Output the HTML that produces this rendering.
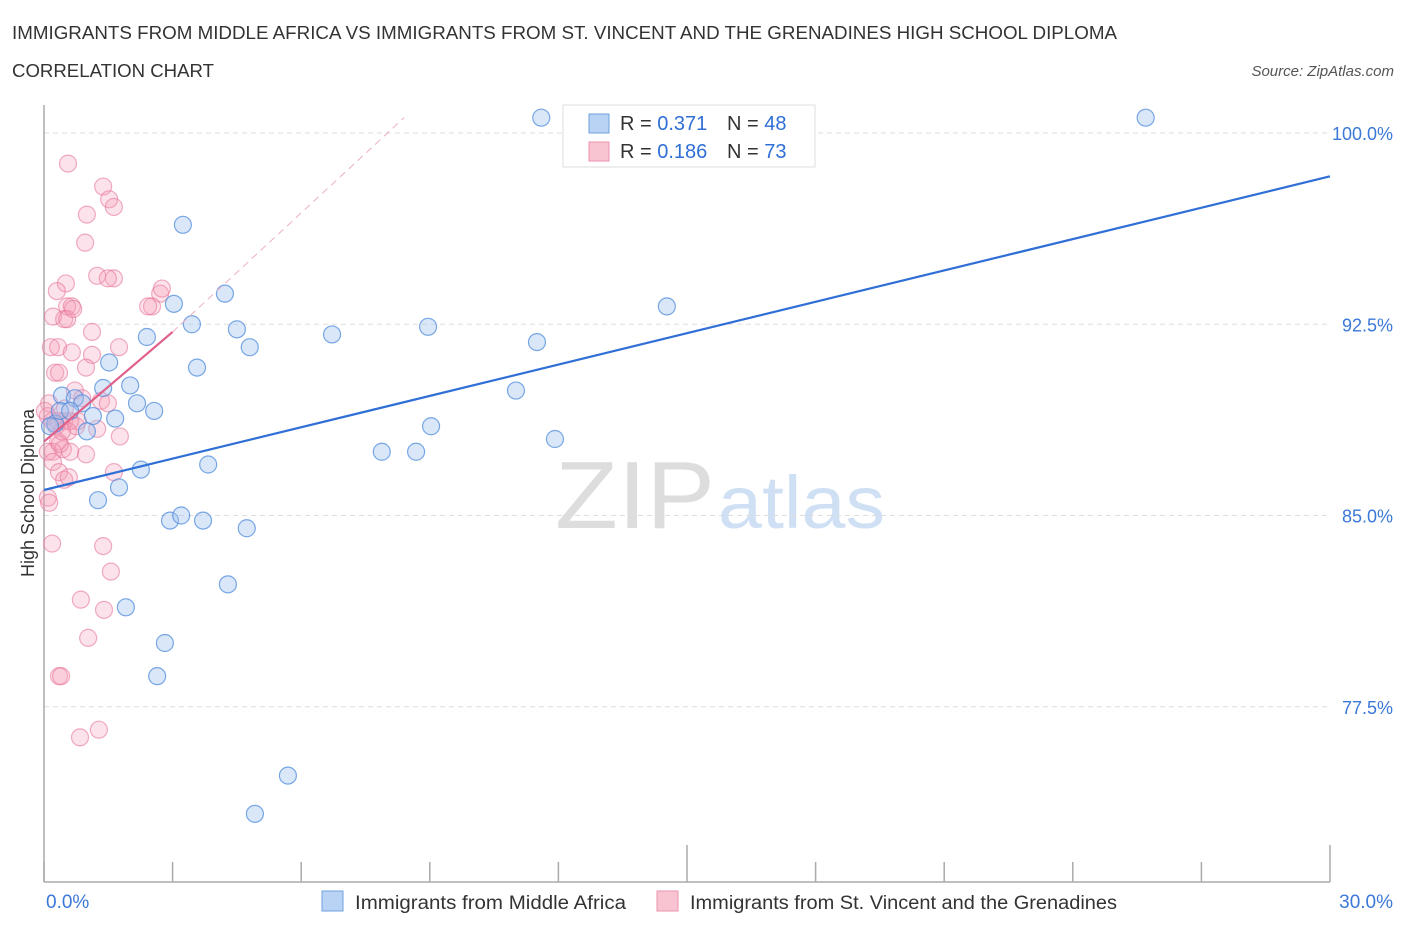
<!DOCTYPE html>
<html><head><meta charset="utf-8">
<style>
body{margin:0;background:#fff;font-family:"Liberation Sans",sans-serif;}
svg text{font-family:"Liberation Sans",sans-serif;}
</style></head>
<body>
<svg id="chart" width="1406" height="930" xmlns="http://www.w3.org/2000/svg">
<text x="12" y="39" font-size="18" fill="#333" textLength="1105" lengthAdjust="spacingAndGlyphs">IMMIGRANTS FROM MIDDLE AFRICA VS IMMIGRANTS FROM ST. VINCENT AND THE GRENADINES HIGH SCHOOL DIPLOMA</text>
<text x="12" y="77" font-size="18" fill="#333" textLength="202" lengthAdjust="spacingAndGlyphs">CORRELATION CHART</text>
<text x="1394" y="76" font-size="15" fill="#555" font-style="italic" text-anchor="end">Source: ZipAtlas.com</text>
<text x="555" y="528" font-size="96" fill="#ddd" font-family="Liberation Serif" textLength="160" lengthAdjust="spacingAndGlyphs">ZIP</text>
<text x="718" y="528" font-size="74" fill="#cfe0f4" textLength="167" lengthAdjust="spacingAndGlyphs">atlas</text>
<text transform="translate(34,493) rotate(-90)" font-size="18" fill="#333" text-anchor="middle">High School Diploma</text>
<g id="grid"></g>
<g id="axes"></g>
<g id="pts"></g>
<g id="lines"></g>
<g>
<rect x="563" y="105" width="252" height="62" fill="#fff" stroke="#ddd"/>
<rect x="589" y="114" width="20" height="19" fill="#b9d3f5" stroke="#6fa0e0"/>
<rect x="589" y="142" width="20" height="19" fill="#f8c4d2" stroke="#ec93ac"/>
<text x="620" y="130" font-size="20" fill="#333">R = <tspan fill="#2f6fd6">0.371</tspan></text>
<text x="727" y="130" font-size="20" fill="#333">N = <tspan fill="#2f6fd6">48</tspan></text>
<text x="620" y="158" font-size="20" fill="#333">R = <tspan fill="#2f6fd6">0.186</tspan></text>
<text x="727" y="158" font-size="20" fill="#333">N = <tspan fill="#2f6fd6">73</tspan></text>
</g>
<g>
<rect x="322" y="891" width="21" height="20" fill="#b9d3f5" stroke="#6fa0e0"/>
<text x="355" y="909" font-size="19" fill="#333" textLength="271" lengthAdjust="spacingAndGlyphs">Immigrants from Middle Africa</text>
<rect x="657" y="891" width="21" height="20" fill="#f8c4d2" stroke="#ec93ac"/>
<text x="690" y="909" font-size="19" fill="#333" textLength="427" lengthAdjust="spacingAndGlyphs">Immigrants from St. Vincent and the Grenadines</text>
</g>
</svg>
<script>
const yTicks=[100,92.5,85,77.5];
const yTickLabels=["100.0%","92.5%","85.0%","77.5%"];
const xTickLabels=["0.0%","30.0%"];
const blueX=[11.6,25.7,3.24,3.03,4.22,3.45,4.5,2.4,4.8,6.72,8.96,11.5,14.53,1.52,3.57,2.01,1.38,11.01,0.42,0.72,0.89,2.17,2.57,1.14,1.66,0.26,1.0,9.03,11.92,7.88,8.68,3.83,2.26,1.75,1.26,2.94,3.2,3.71,4.73,4.29,1.91,2.82,2.64,5.69,4.92,0.37,0.61,0.14];
const blueY=[100.6,100.6,96.4,93.3,93.7,92.5,92.3,92.0,91.6,92.1,92.4,91.8,93.2,91.0,90.8,90.1,90.0,89.9,89.7,89.6,89.4,89.4,89.1,88.9,88.8,88.6,88.3,88.5,88.0,87.5,87.5,87.0,86.8,86.1,85.6,84.8,85.0,84.8,84.5,82.3,81.4,80.0,78.7,74.8,73.3,89.1,89.1,88.5];
const pinkX=[0.56,1.38,1.52,1.63,1.0,0.96,1.24,1.63,0.51,0.30,0.54,0.65,0.21,0.47,0.54,1.12,1.75,0.16,0.33,0.65,1.12,0.26,0.35,0.98,0.72,0.49,1.33,0.12,1.49,0.09,0.19,0.47,0.33,0.79,0.61,1.24,1.77,0.33,0.44,0.61,0.21,0.98,0.09,0.21,0.35,0.47,1.63,0.58,2.71,2.52,2.75,2.43,1.49,0.68,0.37,0.56,0.09,0.12,0.19,1.38,1.56,0.86,1.40,1.03,0.35,0.40,1.28,0.84,0.89,0.28,0.75,0.42,0.02];
const pinkY=[98.8,97.9,97.4,97.1,96.8,95.7,94.4,94.3,94.1,93.8,93.2,93.2,92.8,92.7,92.7,92.2,91.6,91.6,91.6,91.4,91.3,90.6,90.6,90.8,89.9,89.2,89.5,89.4,89.4,88.9,88.7,88.7,88.7,88.7,88.7,88.4,88.1,87.9,87.6,87.5,87.5,87.4,87.5,87.1,86.7,86.4,86.7,86.5,93.7,93.2,93.9,93.2,94.3,93.1,87.8,88.3,85.7,85.5,83.9,83.8,82.8,81.7,81.3,80.2,78.7,78.7,76.6,76.3,89.6,88.5,88.5,88.3,89.1];
const blueLine=[0,86.0,30,98.3];
const pinkLine=[0,87.9,3.0,92.2,8.4,100.6];
const X=v=>44+v/30*1286, Y=v=>133+(100-v)*25.5;
const NS="http://www.w3.org/2000/svg";
function mk(p,t,a){const e=document.createElementNS(NS,t);for(const k in a)e.setAttribute(k,a[k]);p.appendChild(e);return e;}
const grid=document.getElementById('grid'),axes=document.getElementById('axes'),pts=document.getElementById('pts'),lines=document.getElementById('lines');
yTicks.forEach((v,i)=>{
 const l=mk(grid,'line',{x1:44,x2:1330,y1:Y(v),y2:Y(v),stroke:'#ddd','stroke-dasharray':'5,4'});
 
 
 const t=mk(axes,'text',{x:1393,y:Y(v)+7,'font-size':18,fill:'#3b78d8','text-anchor':'end'});
 t.textContent=yTickLabels[i];
 
 
});
let a=mk(axes,'line',{x1:44,x2:44,y1:105,y2:882,stroke:'#aaa','stroke-width':1.5});


a=mk(axes,'line',{x1:44,x2:1330,y1:882,y2:882,stroke:'#aaa','stroke-width':1.5});


for(let i=0;i<=10;i++){
 const x=X(i*3),top=(i==5||i==10)?845:862;
 const t=mk(axes,'line',{x1:x,x2:x,y1:top,y2:882,stroke:'#aaa','stroke-width':1.5});
 
 
}
[[0,'start',46],[30,'end',1393]].forEach((d,i)=>{
 const t=mk(axes,'text',{x:d[2],y:908,'font-size':19,fill:'#3b78d8','text-anchor':d[1]});
 t.textContent=xTickLabels[i];
 
 
});
pinkX.forEach((v,i)=>{
 const c=mk(pts,'circle',{cx:X(v),cy:Y(pinkY[i]),r:8.5,fill:'rgba(244,160,185,0.3)',stroke:'rgba(232,120,155,0.6)','stroke-width':1.2});
 
 
});
blueX.forEach((v,i)=>{
 const c=mk(pts,'circle',{cx:X(v),cy:Y(blueY[i]),r:8.5,fill:'rgba(160,195,240,0.4)',stroke:'rgba(80,140,220,0.75)','stroke-width':1.2});
 
 
});
let ln=mk(lines,'line',{x1:X(blueLine[0]),y1:Y(blueLine[1]),x2:X(blueLine[2]),y2:Y(blueLine[3]),stroke:'#2f6fd6','stroke-width':2.2});


ln=mk(lines,'line',{x1:X(pinkLine[0]),y1:Y(pinkLine[1]),x2:X(pinkLine[2]),y2:Y(pinkLine[3]),stroke:'#e0608a','stroke-width':2.2});


ln=mk(lines,'line',{x1:X(pinkLine[2]),y1:Y(pinkLine[3]),x2:X(pinkLine[4]),y2:Y(pinkLine[5]),stroke:'#eab0c2','stroke-width':1,'stroke-dasharray':'7,5'});


</script>
</body></html>
